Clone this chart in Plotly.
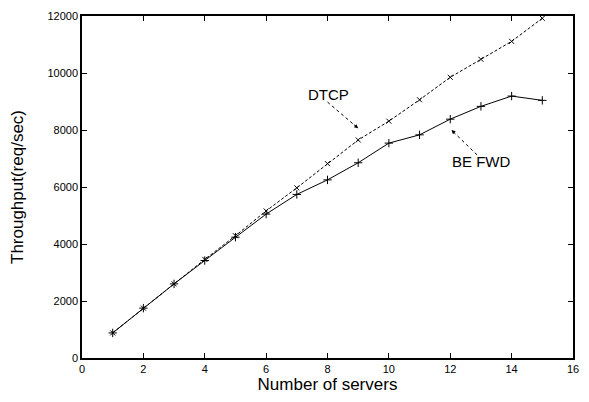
import plotly.graph_objects as go

# Throughput measured for each cluster size
servers = list(range(1, 16))
dtcp = [880, 1750, 2600, 3460, 4290, 5160, 5970, 6820, 7650, 8310, 9060, 9850, 10480, 11110, 11920]
be_fwd = [880, 1750, 2600, 3420, 4240, 5050, 5740, 6250, 6850, 7540, 7830, 8380, 8830, 9190, 9040]

x_ticks = [0, 2, 4, 6, 8, 10, 12, 14, 16]
y_ticks = [0, 2000, 4000, 6000, 8000, 10000, 12000]
y_tick_text = ["0", "2000", "4000", "6000", "8000", "10000", "12000"]

FONT = "Liberation Sans, Arial, Helvetica, sans-serif"

fig = go.Figure()

fig.add_trace(go.Scatter(
    x=servers, y=dtcp, name="DTCP", mode="lines+markers",
    line=dict(color="black", width=1, dash="3px,2px"),
    marker=dict(symbol="x-thin", size=5, color="black",
                line=dict(color="black", width=1)),
))
fig.add_trace(go.Scatter(
    x=servers, y=be_fwd, name="BE FWD", mode="lines+markers",
    line=dict(color="black", width=1),
    marker=dict(symbol="cross-thin", size=6, color="black",
                line=dict(color="black", width=1)),
))

# Series labels with dotted leader arrows
labels = [
    # text, text position, leader tail, leader head
    ("DTCP", (8.02, 9230), (8.0, 8980), (9.0, 8060)),
    ("BE FWD", (13.0, 6880), (12.87, 7130), (12.04, 8000)),
]
for text, (tx, ty), (x0, y0), (x1, y1) in labels:
    fig.add_annotation(x=tx, y=ty, text=text, showarrow=False,
                       font=dict(family=FONT, size=15, color="black"))
    fig.add_shape(type="line", x0=x0, y0=y0, x1=x1, y1=y1,
                  line=dict(color="black", width=1, dash="dot"))
    fig.add_annotation(x=x1, y=y1, ax=x1 - (x1 - x0) * 0.18, ay=y1 - (y1 - y0) * 0.18,
                       axref="x", ayref="y", xref="x", yref="y", text="",
                       showarrow=True, arrowhead=2, arrowsize=0.8,
                       arrowwidth=1, arrowcolor="black")

axis_common = dict(
    showline=True, linecolor="black", linewidth=1.5, mirror="allticks",
    ticks="inside", ticklen=5, tickcolor="black", tickwidth=1,
    showgrid=False, zeroline=False,
    tickfont=dict(family=FONT, size=11, color="black"),
)

fig.update_xaxes(range=[0, 16], tickvals=x_ticks,
                 title=dict(text="Number of servers", standoff=2,
                            font=dict(family=FONT, size=17, color="black")),
                 **axis_common)
fig.update_yaxes(range=[0, 12000], tickvals=y_ticks, ticktext=y_tick_text,
                 title=dict(text="Throughput(req/sec)", standoff=20,
                            font=dict(family=FONT, size=17, color="black")),
                 **axis_common)

fig.update_layout(
    width=589, height=402,
    margin=dict(l=82, r=10, t=11, b=44),
    paper_bgcolor="white", plot_bgcolor="white",
    showlegend=False,
    font=dict(family=FONT, color="black"),
)

fig.write_html("out.html")
